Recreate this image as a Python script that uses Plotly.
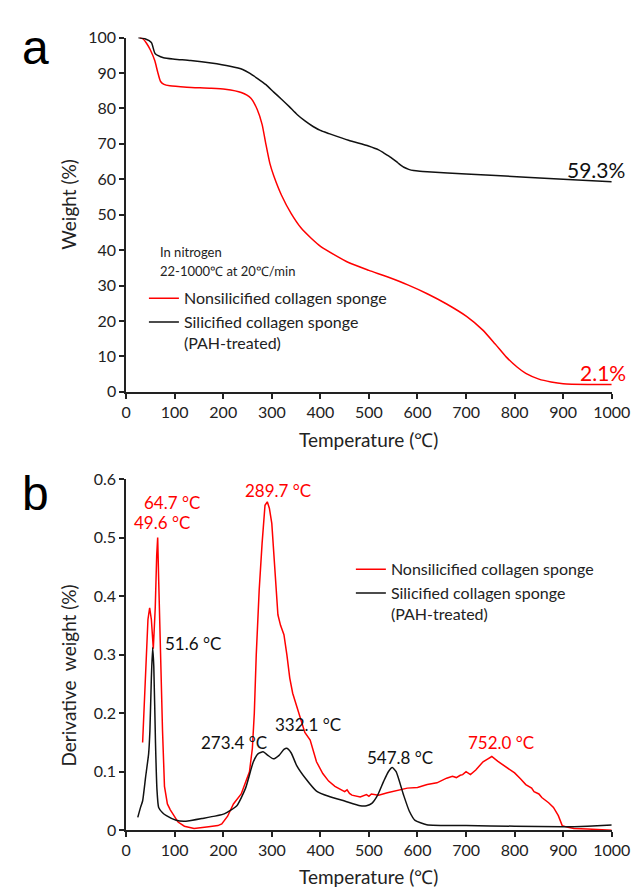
import plotly.graph_objects as go

# ---------- Panel a: TGA ----------
tga_black_temp = [25, 40, 52, 60, 77, 100, 133, 175, 214, 240, 255, 270, 288, 304, 320, 336, 352, 369, 385, 400,
                  418, 458, 499, 520, 531, 545, 560, 572, 582, 592, 605, 620, 700, 823, 900, 1000]
tga_black_weight = [100, 99.6, 98.6, 95.4, 94.3, 93.9, 93.5, 92.8, 91.9, 91.0, 89.9, 88.5, 86.7, 84.6, 82.6,
                    80.5, 78.3, 76.4, 74.9, 73.8, 72.9, 71.0, 69.4, 68.3, 67.4, 66.2, 64.6, 63.4, 62.8, 62.45,
                    62.25, 62.1, 61.5, 60.6, 60.0, 59.3]

tga_red_temp = [28, 35, 42, 50, 59, 65, 71, 78, 90, 125, 175, 204, 237, 257, 270, 280, 287, 296, 304, 320, 340,
                360, 380, 401, 430, 458, 500, 539, 580, 620, 660, 701, 734, 760, 783, 805, 823, 850, 875, 900,
                950, 1000]
tga_red_weight = [100, 99.6, 98.4, 96.5, 93.5, 90.3, 87.6, 86.8, 86.4, 86.0, 85.7, 85.4, 84.5, 82.9, 79.7, 75.5,
                  70.5, 64.5, 61.0, 55.5, 50.3, 46.3, 43.5, 41.0, 38.6, 36.5, 34.3, 32.4, 30.2, 27.7, 24.8,
                  21.3, 17.5, 13.5, 9.8, 7.0, 5.2, 3.6, 2.8, 2.3, 2.1, 2.1]

# ---------- Panel b: DTG ----------
dtg_red_temp = [34, 40, 45, 48.5, 52, 56, 60, 63, 65, 67, 71, 75, 79, 85, 91, 100, 107, 120, 140, 170, 189, 197,
                209, 221, 229, 237, 245, 254, 260, 264, 268, 274, 280, 286, 290.7, 295, 300, 306, 312.6, 318,
                325, 331, 337, 343, 355, 368, 379, 392, 405, 417, 430, 441, 450, 455, 460, 465, 482, 495, 500,
                505, 520, 538, 560, 579, 600, 620, 640, 660, 672, 680, 688, 693, 700, 709, 720, 735, 745, 753,
                765, 776, 790, 800, 812, 823, 835, 840, 850, 856, 870, 880, 890, 898, 910, 922, 950, 1000]
dtg_red_value = [0.150, 0.28, 0.36, 0.38, 0.36, 0.31, 0.38, 0.47, 0.50, 0.43, 0.284, 0.17, 0.075, 0.045, 0.035,
                 0.022, 0.014, 0.007, 0.003, 0.006, 0.008, 0.011, 0.024, 0.045, 0.053, 0.062, 0.08, 0.10, 0.14,
                 0.20, 0.30, 0.41, 0.49, 0.555, 0.561, 0.55, 0.524, 0.45, 0.368, 0.35, 0.334, 0.30, 0.26, 0.234,
                 0.20, 0.167, 0.154, 0.117, 0.097, 0.084, 0.075, 0.070, 0.066, 0.069, 0.063, 0.060, 0.057, 0.061,
                 0.058, 0.062, 0.060, 0.064, 0.068, 0.072, 0.073, 0.078, 0.081, 0.089, 0.092, 0.090, 0.094, 0.095,
                 0.100, 0.095, 0.103, 0.117, 0.122, 0.126, 0.118, 0.112, 0.103, 0.098, 0.088, 0.078, 0.072,
                 0.066, 0.062, 0.056, 0.047, 0.039, 0.025, 0.008, 0.005, 0.003, 0.002, 0.0]

dtg_black_temp = [24, 30, 34, 40, 46.4, 49, 52, 54.6, 57, 60.5, 63.5, 67, 75, 83, 103, 123, 156, 202, 228, 246,
                  262, 272, 282, 292, 303, 315, 325, 331, 340, 351, 370, 392, 417, 450, 482, 495, 506, 518, 530,
                  540, 548, 556, 571, 583, 595, 619, 700, 800, 900, 950, 1000]
dtg_black_value = [0.022, 0.04, 0.05, 0.09, 0.131, 0.17, 0.26, 0.312, 0.28, 0.15, 0.07, 0.039, 0.03, 0.025,
                   0.017, 0.0155, 0.02, 0.028, 0.042, 0.072, 0.117, 0.131, 0.134, 0.128, 0.122, 0.128, 0.138,
                   0.14, 0.132, 0.111, 0.088, 0.067, 0.058, 0.05, 0.042, 0.042, 0.046, 0.06, 0.083, 0.1, 0.107,
                   0.1, 0.061, 0.033, 0.017, 0.0095, 0.008, 0.007, 0.006, 0.007, 0.009]

series_names = ["Nonsilicified collagen sponge", "Silicified collagen sponge<br>(PAH-treated)"]
peak_labels_red = ["289.7 °C", "64.7 °C", "49.6 °C", "752.0 °C"]
peak_labels_red_pos = [(313, 0.58), (95, 0.56), (74, 0.525), (772, 0.15)]
peak_labels_black = ["51.6 °C", "273.4 °C", "332.1 °C", "547.8 °C"]
peak_labels_black_pos = [(138, 0.319), (223, 0.15), (375, 0.181), (565, 0.125)]

RED = "#ff0000"
BLACK = "#111111"
FONT = "Lato"
TXT = "#222222"

fig = go.Figure()
fig.add_trace(go.Scatter(x=tga_red_temp, y=tga_red_weight, mode="lines",
                         line=dict(color=RED, width=1.5, shape="spline", smoothing=0.6),
                         name=series_names[0], xaxis="x", yaxis="y", legend="legend"))
fig.add_trace(go.Scatter(x=tga_black_temp, y=tga_black_weight, mode="lines",
                         line=dict(color=BLACK, width=1.5, shape="spline", smoothing=0.6),
                         name=series_names[1], xaxis="x", yaxis="y", legend="legend"))
fig.add_trace(go.Scatter(x=dtg_red_temp, y=dtg_red_value, mode="lines", line=dict(color=RED, width=1.5),
                         name=series_names[0], xaxis="x2", yaxis="y2", legend="legend2"))
fig.add_trace(go.Scatter(x=dtg_black_temp, y=dtg_black_value, mode="lines",
                         line=dict(color=BLACK, width=1.5, shape="spline", smoothing=0.5),
                         name=series_names[1], xaxis="x2", yaxis="y2", legend="legend2"))

axis_common = dict(showline=True, linecolor="#222222", linewidth=1.5, ticks="outside", ticklen=5,
                   tickwidth=1.5, tickcolor="#222222", showgrid=False, zeroline=False,
                   tickfont=dict(family=FONT, size=16, color=TXT))

W, H = 642, 890
xdom = [117.5 / W, 622 / W]
fig.update_layout(
    width=W, height=H, margin=dict(l=0, r=0, t=0, b=0),
    paper_bgcolor="white", plot_bgcolor="white",
    xaxis=dict(domain=xdom, range=[0, 1000], dtick=100, anchor="y", **axis_common),
    yaxis=dict(domain=[1 - 382 / H, 1 - 20 / H], range=[0, 100], dtick=10, anchor="x", **axis_common),
    xaxis2=dict(domain=xdom, range=[0, 1000], dtick=100, anchor="y2", **axis_common),
    yaxis2=dict(domain=[1 - 830 / H, 1 - 471 / H], range=[0, 0.6], dtick=0.1, anchor="x2", **axis_common),
    legend=dict(x=136 / W, y=1 - 269 / H, xanchor="left", yanchor="top", valign="top",
                bgcolor="rgba(0,0,0,0)", font=dict(family=FONT, size=16, color=TXT), itemwidth=30),
    legend2=dict(x=351 / W, y=1 - 546 / H, xanchor="left", yanchor="top", valign="top",
                 bgcolor="rgba(0,0,0,0)", font=dict(family=FONT, size=16, color=TXT), itemwidth=30),
    showlegend=True,
)


def paper_text(text, px, py, size, color=TXT, family=FONT, angle=0):
    return dict(text=text, x=px / W, y=1 - py / H, xref="paper", yref="paper", showarrow=False,
                xanchor="center", yanchor="middle", textangle=angle,
                font=dict(family=family, size=size, color=color))


ann = []
# panel letters
ann.append(paper_text("a", 23, 30, 48, color="black", family="Liberation Sans"))
ann.append(paper_text("b", 23, 486, 48, color="black", family="Liberation Sans"))
# axis titles
ann.append(paper_text("Weight (%)", 58, 190, 19, angle=-90))
ann.append(paper_text("Derivative  weight (%)", 58, 672, 19, angle=-90))
ann.append(dict(text="Temperature (℃)", x=500, y=1 - 431 / H, xref="x", yref="paper", showarrow=False,
                xanchor="center", yanchor="middle", font=dict(family=FONT, size=19, color=TXT)))
ann.append(dict(text="Temperature (℃)", x=500, y=1 - 877 / H, xref="x2", yref="paper", showarrow=False,
                xanchor="center", yanchor="middle", font=dict(family=FONT, size=19, color=TXT)))
# conditions
ann.append(dict(text="In nitrogen", x=65, y=39.5, xref="x", yref="y", xanchor="left", yanchor="middle",
                showarrow=False, font=dict(family=FONT, size=13, color=TXT)))
ann.append(dict(text="22-1000℃ at 20℃/min", x=65, y=34.0, xref="x", yref="y", xanchor="left",
                yanchor="middle", showarrow=False, font=dict(family=FONT, size=13, color=TXT)))
# residual values
ann.append(dict(text="59.3%", x=967, y=62.7, xref="x", yref="y", showarrow=False, xanchor="center",
                yanchor="middle", font=dict(family=FONT, size=21, color=BLACK)))
ann.append(dict(text="2.1%", x=981, y=5.5, xref="x", yref="y", showarrow=False, xanchor="center",
                yanchor="middle", font=dict(family=FONT, size=21, color=RED)))
# peak labels
for t, (px, py) in zip(peak_labels_red, peak_labels_red_pos):
    ann.append(dict(text=t, x=px, y=py, xref="x2", yref="y2", showarrow=False, xanchor="center",
                    yanchor="middle", font=dict(family=FONT, size=17, color=RED)))
for t, (px, py) in zip(peak_labels_black, peak_labels_black_pos):
    ann.append(dict(text=t, x=px, y=py, xref="x2", yref="y2", showarrow=False, xanchor="center",
                    yanchor="middle", font=dict(family=FONT, size=17, color=BLACK)))
fig.update_layout(annotations=ann)

fig.write_html("out.html")
